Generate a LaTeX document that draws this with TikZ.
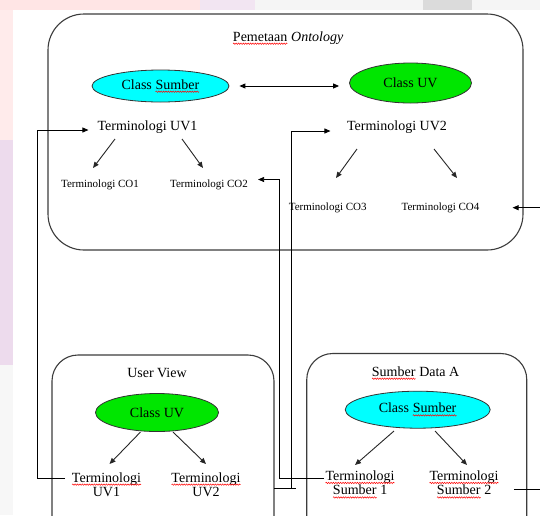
\documentclass[tikz,border=0pt]{standalone}
\usepackage{fontspec}
\setmainfont{Liberation Serif}
\usetikzlibrary{arrows.meta,shapes.geometric,decorations.pathmorphing}
\definecolor{clsSrc}{RGB}{0,255,255}
\definecolor{clsUV}{RGB}{0,230,0}
\definecolor{panelC}{RGB}{60,60,60}
% red wavy underline, as a spell checker leaves it
\newcommand\spellmark[1]{\tikz[baseline=(sw.base),x=1pt,y=1pt]{%
  \node[shape=rectangle,draw=none,fill=none,minimum width=0pt,minimum height=0pt,
        inner sep=0pt,outer sep=0pt,anchor=base](sw){#1};%
  \draw[red,line width=0.5pt,decorate,decoration={snake,amplitude=0.7pt,segment length=2.4pt}]
    ([yshift=-2.6pt]sw.base west) -- ([yshift=-2.6pt]sw.base east);}}

\begin{document}
\begin{tikzpicture}[x=1pt,y=-1pt,
  panel/.style={draw=panelC,line width=1.1pt,rounded corners=#1,inner sep=0pt,outer sep=0pt},
  panel/.default=30pt,
  cls/.style={ellipse,draw=black!80,line width=0.8pt,inner sep=0pt,font=\fontsize{14}{16}\selectfont},
  term/.style={inner sep=1pt,font=\fontsize{14}{16}\selectfont},
  term2/.style={inner sep=1pt,align=center,font=\fontsize{14}{14.5}\selectfont},
  co/.style={inner sep=1pt,font=\fontsize{11}{13}\selectfont},
  caption/.style={inner sep=1pt,font=\fontsize{14}{16}\selectfont},
  tip/.style={-{Triangle[length=6pt,width=5pt]}},
  tree/.style={draw=black!85,line width=0.9pt,tip},
  link/.style={draw=black,line width=0.8pt,tip},
]
\useasboundingbox (0,0) rectangle (540,515);
\clip (0,0) rectangle (540,515);

% page and slide background
\fill[white] (0,0) rectangle (540,515);
\fill[red!8!white] (0,0) rectangle (13,140);
\fill[violet!14!white] (0,140) rectangle (13,365);
\fill[black!3] (0,365) rectangle (13,515);
\fill[red!10!white] (0,0) rectangle (200,10);
\fill[violet!10!white] (200,0) rectangle (255,10);
\fill[black!4] (255,0) rectangle (540,10);
\fill[black!14] (423,0) rectangle (472,10);

% panels
\node[panel=36pt,minimum width=475pt,minimum height=236pt] (onto) at (285.5,132) {};
\node[panel=26pt,minimum width=222pt,minimum height=205pt] (uvbox) at (163,457.5) {};
\node[panel=26pt,minimum width=220pt,minimum height=206pt] (srcbox) at (416.75,456.5) {};

% ontology mapping
\node[caption] (title) at (288,38) {\spellmark{Pemetaan} \textit{Ontology}};
\node[cls,fill=clsSrc,minimum width=137pt,minimum height=32pt] (srcA) at (160.5,86) {Class \spellmark{Sumber}};
\node[cls,fill=clsUV,minimum width=122pt,minimum height=40pt] (uvA) at (410.5,83) {Class UV};
\draw[line width=0.9pt,{Triangle[length=6pt,width=5pt]}-{Triangle[length=6pt,width=5pt]},
      shorten <=10pt,shorten >=10pt] (srcA.east) -- (srcA.east -| uvA.west);

\node[term] (tuv1) at (147.5,127) {Terminologi UV1};
\node[term] (tuv2) at (397,127) {Terminologi UV2};
\node[co] (co1) at (100,185) {Terminologi CO1};
\node[co] (co2) at (209,185) {Terminologi CO2};
\node[co] (co3) at (327.7,207.7) {Terminologi CO3};
\node[co] (co4) at (440.5,207.7) {Terminologi CO4};

\draw[tree] ([shift={(-32.5,12)}]tuv1.center) -- ([shift={(-7,-17)}]co1.center);
\draw[tree] ([shift={(34.5,12)}]tuv1.center) -- ([shift={(-6,-17)}]co2.center);
\draw[tree] ([shift={(-40,22)}]tuv2.center) -- ([shift={(8.3,-29.7)}]co3.center);
\draw[tree] ([shift={(37,22)}]tuv2.center) -- ([shift={(16.5,-29.7)}]co4.center);

% user view
\node[caption] (uvtitle) at (157,373) {User View};
\node[cls,fill=clsUV,minimum width=123pt,minimum height=38pt] (uvB) at (157,412.5) {Class UV};
\node[term2] (tuvB1) at (106.5,484.5) {\spellmark{Terminologi}\\UV1};
\node[term2] (tuvB2) at (206,484.5) {\spellmark{Terminologi}\\UV2};
\draw[tree] ([shift={(-16.5,19.5)}]uvB.center) -- ([shift={(3,-20.5)}]tuvB1.center);
\draw[tree] ([shift={(16,19.5)}]uvB.center) -- ([shift={(0,-20.5)}]tuvB2.center);

% data source A
\node[caption] (srctitle) at (415.5,373) {\spellmark{Sumber} Data A};
\node[cls,fill=clsSrc,minimum width=145pt,minimum height=37pt] (srcB) at (417.7,409.7) {Class \spellmark{Sumber}};
\node[term2] (tsB1) at (360,484.5) {\spellmark{Terminologi}\\\spellmark{Sumber} 1};
\node[term2] (tsB2) at (464,484.5) {\spellmark{Terminologi}\\\spellmark{Sumber} 2};
\draw[tree] ([shift={(-23.7,21.3)}]srcB.center) -- ([shift={(-5,-19.5)}]tsB1.center);
\draw[tree] ([shift={(17.3,21.3)}]srcB.center) -- ([shift={(3,-19.5)}]tsB2.center);

% links between the panels
\draw[link,shorten >=8pt] ([shift={(-5.5,-6.5)}]tuvB1.west)
  -| ([shift={(-59,3)}]tuv1.west) -- ([shift={(0,3)}]tuv1.west);
\draw[link,shorten >=15.5pt] ([shift={(68,3.5)}]tuvB2.center) -- ++(22,0) ++(-5,0)
  |- ([shift={(0,4)}]tuv2.west);
\draw[link,shorten >=9pt] ([shift={(0,-6.5)}]tsB1.west)
  -| ([shift={(30.2,-5.5)}]co2.east) -- ([shift={(0,-5.5)}]co2.east);
\draw[link,shorten >=32pt] ([shift={(14,4.5)}]tsB2.east) -- ++(40,0)
  |- (co4.east);
\end{tikzpicture}
\end{document}
